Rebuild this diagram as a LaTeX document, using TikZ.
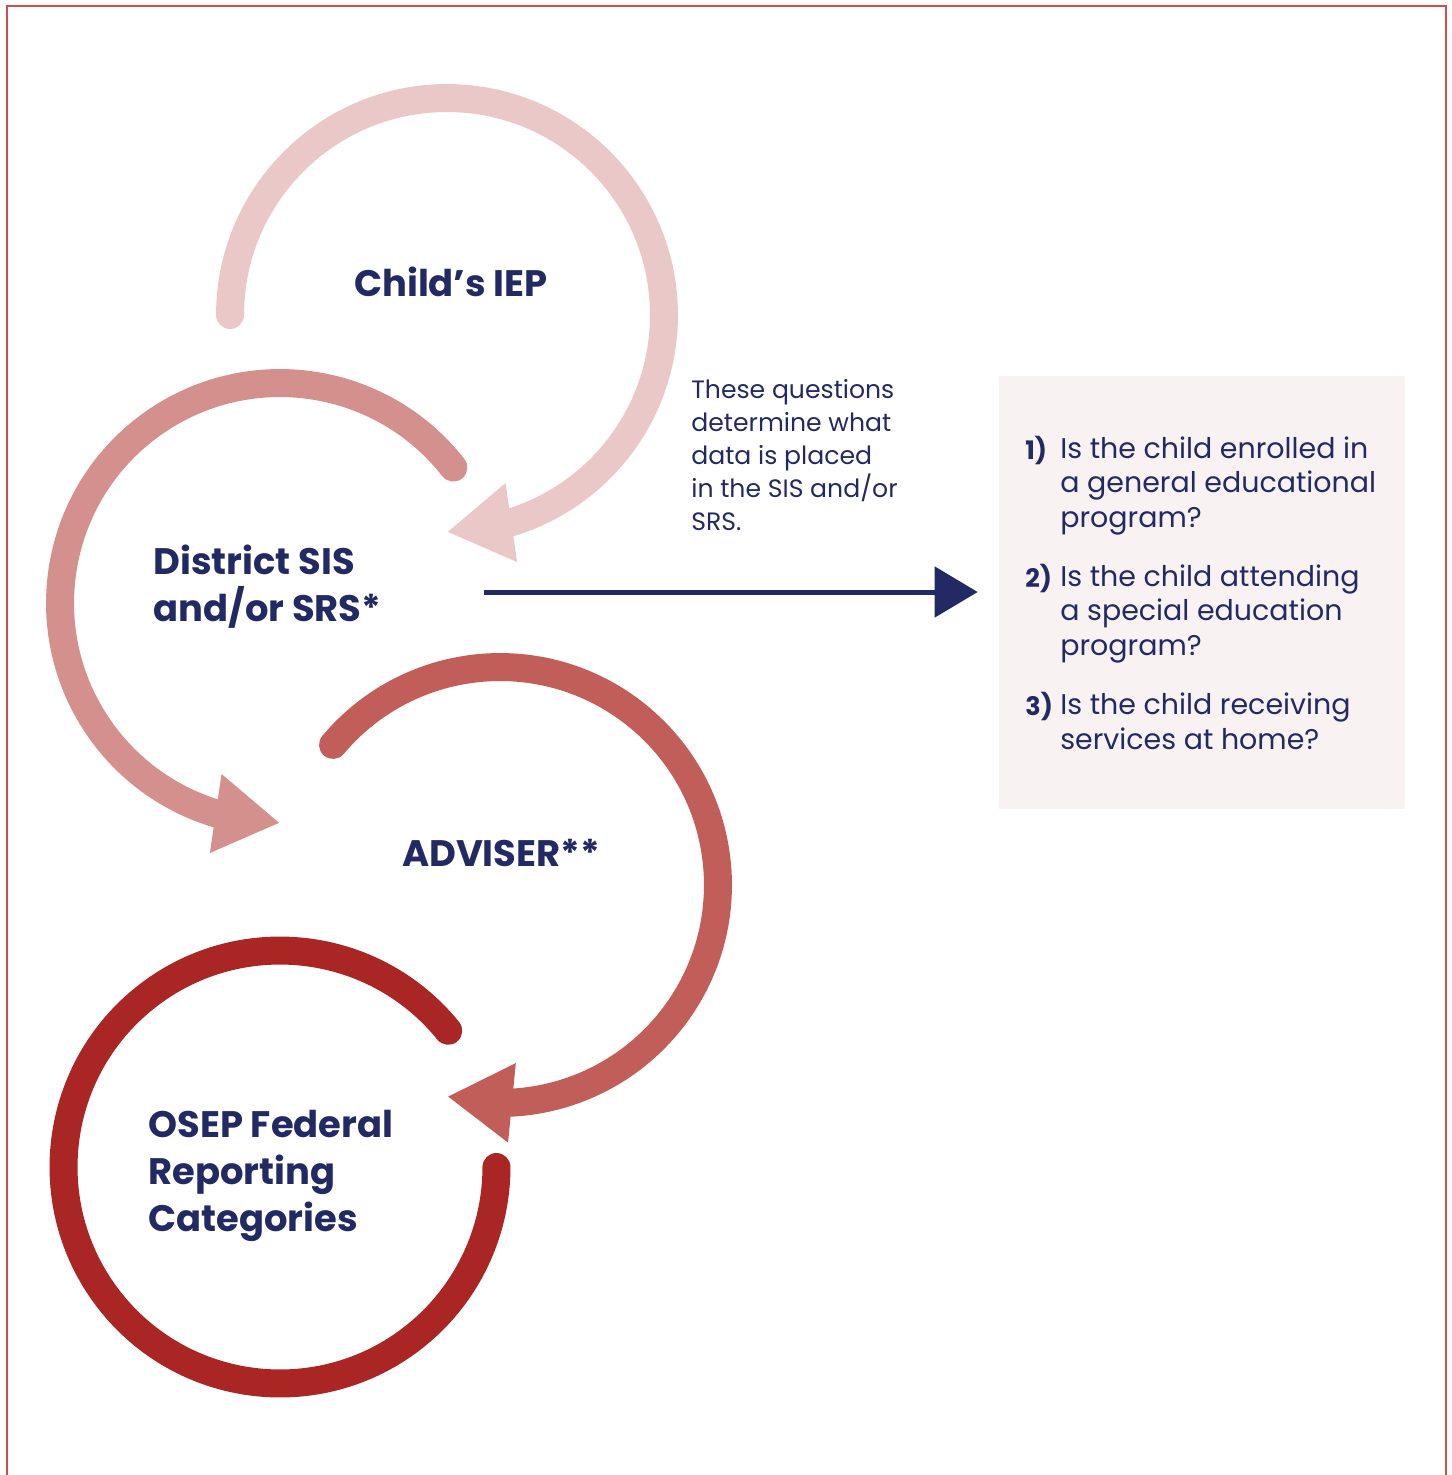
\documentclass[tikz,border=0pt]{standalone}
\usepackage{fontspec}
\setmainfont{Poppins}
\usetikzlibrary{arrows.meta,bending,calc,positioning}

\definecolor{iepPink}{HTML}{EBC8C8}
\definecolor{sisPink}{HTML}{D4908D}
\definecolor{advRed}{HTML}{C25E5A}
\definecolor{osepRed}{HTML}{AA2624}
\definecolor{navy}{HTML}{232A63}
\definecolor{boxFill}{HTML}{F8F2F2}
\definecolor{frameRed}{HTML}{D64A4A}

\tikzset{
    ring/.style =   {line width=0.56cm,
                    line cap=round,
                    draw=#1},
    ringarrow/.style = {ring=#1,
                    -{Triangle[length=1.3cm,width=1.5cm]}},
    flowarrow/.style = {draw=navy,
                    line width=0.1cm,
                    -{Triangle[length=0.86cm,width=1.0cm]}},
    title/.style =  {text=navy,
                    inner sep=0pt,
                    align=left,
                    font=\fontsize{21}{26.6}\selectfont\bfseries},
    note/.style =   {text=navy,
                    inner sep=0pt,
                    align=left,
                    font=\fontsize{14.3}{18.7}\selectfont},
    qnum/.style =   {text=navy,
                    inner sep=0pt,
                    font=\fontsize{14.5}{19.6}\selectfont\bfseries},
    qtext/.style =  {text=navy,
                    inner sep=0pt,
                    align=left,
                    font=\fontsize{16.2}{19.6}\selectfont},
    qbox/.style =   {rectangle,
                    fill=boxFill,
                    draw=none,
                    minimum width=8.12cm,
                    minimum height=8.66cm},
    frame/.style =  {draw=frameRed,
                    line width=0.04cm}
}

\begin{document}
\begin{tikzpicture}[x=0.02cm,y=-0.02cm]
    \useasboundingbox (0,0) rectangle (1452,1475);
    \draw[frame] (7,1480) -- (7,6) -- (1446,6) -- (1446,1480);

    % ring centres
    \coordinate (iepc)  at (447,315);
    \coordinate (sisc)  at (280,603);
    \coordinate (advc)  at (500,885);
    \coordinate (osepc) at (280,1167);

    \draw[ringarrow=iepPink] ($(iepc)+(180:4.34cm)$) arc[start angle=180, end angle=-90, radius=4.34cm];
    \draw[ringarrow=sisPink] ($(sisc)+(38:4.4cm)$) arc[start angle=38, end angle=270, radius=4.4cm];
    \draw[ringarrow=advRed]  ($(advc)+(140:4.36cm)$) arc[start angle=140, end angle=-104, radius=4.36cm];
    \draw[ring=osepRed]      ($(osepc)+(39:4.33cm)$) arc[start angle=39, end angle=360, radius=4.33cm];

    % base of a multi-line node = its last line
    \node[title, anchor=base]      (iep)      at (451,296)  {Child’s IEP};
    \node[title, anchor=base west] (district) at (153,621)  {District SIS\\and/or SRS*};
    \node[title, anchor=base]      (adviser)  at (501,866)  {ADVISER**};
    \node[title, anchor=base west] (osep)     at (148,1231) {OSEP Federal\\Reporting\\Categories};

    \node[note, anchor=base west]  (note)     at (691,530)
        {These questions\\determine what\\data is placed\\in the SIS and/or\\SRS.};

    % questions box
    \node[qbox] (questions) at (1202,592.5) {};
    \node[qnum, anchor=base west]  (n1) at (1025,459) {1)};
    \node[qtext, anchor=base west] (q1) at (1060,527) {Is the child enrolled in\\a general educational\\program?};
    \node[qnum, anchor=base west]  (n2) at (1025,587) {2)};
    \node[qtext, anchor=base west] (q2) at (1060,655) {Is the child attending\\a special education\\program?};
    \node[qnum, anchor=base west]  (n3) at (1025,715) {3)};
    \node[qtext, anchor=base west] (q3) at (1060,749) {Is the child receiving\\services at home?};

    \coordinate (sisout) at (484,592);
    \draw[flowarrow, shorten >=0.42cm] (sisout) -- (sisout -| questions.west);
\end{tikzpicture}
\end{document}
